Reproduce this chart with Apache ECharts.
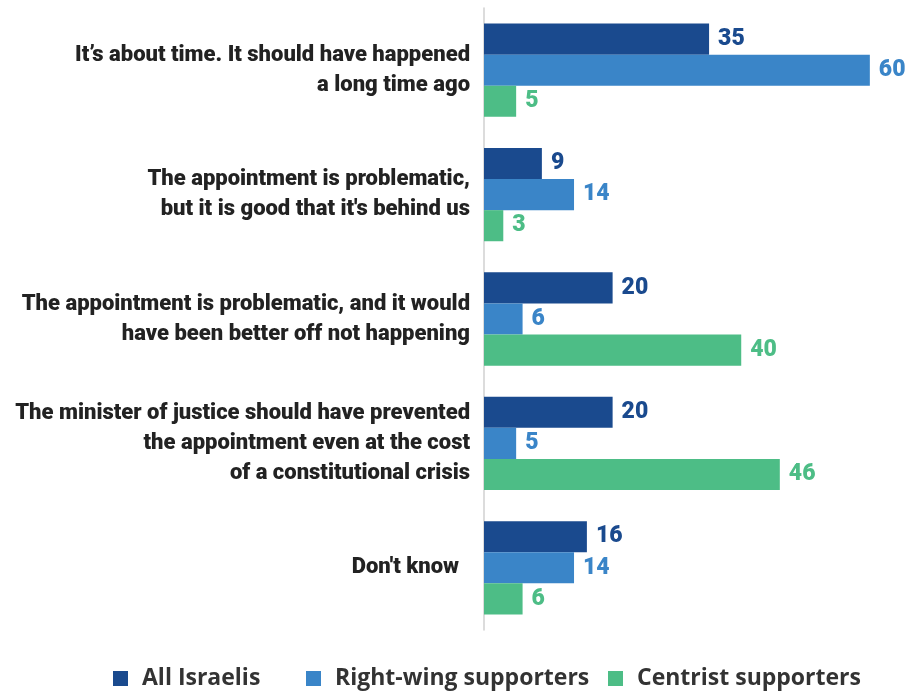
<!DOCTYPE html>
<html>
<head>
<meta charset="utf-8">
<script src="https://cdn.jsdelivr.net/npm/echarts@6/dist/echarts.min.js"></script>
<style>
  html, body { margin: 0; padding: 0; background: #fff; }
  #chart { width: 907px; height: 692px; }
</style>
</head>
<body>
<div id="chart"></div>
<script>
// Survey answers, listed top to bottom
const categories = [
  "It’s about time. It should have happened\na long time ago",
  "The appointment is problematic,\nbut it is good that it's behind us",
  "The appointment is problematic, and it would\nhave been better off not happening",
  "The minister of justice should have prevented\nthe appointment even at the cost\nof a constitutional crisis",
  "Don't know  "
];
const seriesNames = ["All Israelis", "Right-wing supporters", "Centrist supporters"];
const allIsraelis = [35, 9, 20, 20, 16];
const rightWing = [60, 14, 6, 5, 14];
const centrist = [5, 3, 40, 46, 6];
const colors = ["#1a4a8e", "#3a85c8", "#4dbd86"];

const chart = echarts.init(document.getElementById('chart'));
const values = [allIsraelis, rightWing, centrist];
const legendLeft = [108, 301, 603];

chart.setOption({
  animation: false,
  legend: seriesNames.map((name, i) => ({
    top: 662,
    left: legendLeft[i],
    itemWidth: 15,
    itemHeight: 15,
    icon: 'rect',
    textStyle: {
      fontFamily: '"Open Sans", sans-serif',
      fontWeight: 'bold',
      fontSize: 23,
      color: '#333',
      padding: [0, 0, 0, 9]
    },
    data: [name]
  })),
  grid: { left: 484, right: 5, top: 8, bottom: 62, outerBoundsMode: 'none' },
  xAxis: {
    type: 'value',
    min: 0,
    max: 65,
    show: false
  },
  yAxis: {
    type: 'category',
    inverse: true,
    data: categories,
    axisLine: { lineStyle: { color: '#d0d0d0', width: 1.5 } },
    axisTick: { show: false },
    axisLabel: {
      margin: 14,
      fontFamily: 'Roboto, sans-serif',
      fontWeight: 900,
      fontSize: 22,
      lineHeight: 30,
      color: '#222'
    }
  },
  series: seriesNames.map((name, i) => ({
    name,
    type: 'bar',
    data: values[i],
    barCategoryGap: '25%',
    barGap: '0%',
    itemStyle: { color: colors[i] },
    label: {
      show: true,
      position: 'right',
      distance: 9,
      fontFamily: 'Roboto',
      fontWeight: 900,
      fontSize: 23,
      color: colors[i]
    }
  }))
});
</script>
</body>
</html>
